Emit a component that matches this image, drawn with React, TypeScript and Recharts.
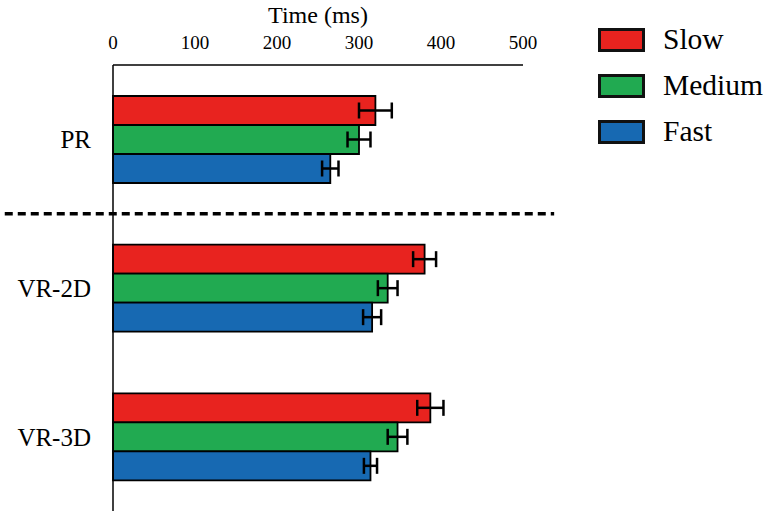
import { Bar, BarChart, ErrorBar, Legend, ReferenceLine, XAxis, YAxis } from "recharts";

const FONT = "'Liberation Serif', 'Times New Roman', serif";

const CATEGORIES = ["PR", "VR-2D", "VR-3D"];
const SLOW = [320, 380, 387];
const SLOW_ERR = [20, 14, 16];
const MEDIUM = [300, 335, 347];
const MEDIUM_ERR = [14, 12, 12];
const FAST = [265, 316, 314];
const FAST_ERR = [10, 11, 8];
const X_TICKS = [0, 100, 200, 300, 400, 500];

const SERIES = [
  { key: "slow", name: "Slow", color: "#E8231F" },
  { key: "medium", name: "Medium", color: "#21AA51" },
  { key: "fast", name: "Fast", color: "#1769B2" },
];

const data = CATEGORIES.map((name, i) => ({
  name,
  slow: SLOW[i],
  slowErr: SLOW_ERR[i],
  medium: MEDIUM[i],
  mediumErr: MEDIUM_ERR[i],
  fast: FAST[i],
  fastErr: FAST_ERR[i],
}));

function LegendBox() {
  return (
    <div style={{ fontFamily: FONT, fontSize: 29.5, color: "#000" }}>
      {SERIES.map((s) => (
        <div key={s.key} style={{ display: "flex", alignItems: "center", height: 46 }}>
          <span
            style={{
              display: "inline-block",
              width: 41,
              height: 18,
              background: s.color,
              border: "3px solid #111",
            }}
          />
          <span style={{ marginLeft: 18, lineHeight: 1 }}>{s.name}</span>
        </div>
      ))}
    </div>
  );
}

export default function App() {
  return (
    <div style={{ position: "absolute", left: 0, top: 0, background: "#fff" }}>
      <BarChart
        width={765}
        height={515}
        data={data}
        layout="vertical"
        barGap={0}
        margin={{ top: 0, right: 242, bottom: 4, left: 0 }}
      >
        <XAxis
          type="number"
          orientation="top"
          domain={[0, 500]}
          ticks={X_TICKS}
          interval={0}
          height={65}
          axisLine={{ stroke: "#000", strokeWidth: 1.5 }}
          tickLine={false}
          tickSize={0}
          tickMargin={16}
          tick={{ fill: "#000", fontSize: 19, fontFamily: FONT }}
          label={{
            value: "Time (ms)",
            position: "insideTop",
            offset: 6,
            fill: "#000",
            fontSize: 24,
            fontFamily: FONT,
          }}
        />
        <YAxis
          type="category"
          dataKey="name"
          width={113}
          axisLine={{ stroke: "#000", strokeWidth: 1.5 }}
          tickLine={false}
          tickSize={0}
          tickMargin={22}
          tick={{ fill: "#000", fontSize: 25, fontFamily: FONT }}
        />
        <Legend
          layout="vertical"
          align="center"
          verticalAlign="middle"
          content={() => <LegendBox />}
          wrapperStyle={{ left: 598, top: 17, width: "auto" }}
        />
        <ReferenceLine
          segment={[
            { x: -132, y: "PR" },
            { x: 538, y: "PR" },
          ]}
          position="end"
          ifOverflow="visible"
          stroke="#000"
          strokeWidth={3.5}
          strokeDasharray="8 5"
        />
        {SERIES.map((s) => (
          <Bar
            key={s.key}
            dataKey={s.key}
            name={s.name}
            fill={s.color}
            stroke="#000"
            strokeWidth={1.8}
            barSize={29}
            isAnimationActive={false}
          >
            <ErrorBar
              dataKey={`${s.key}Err`}
              direction="x"
              width={8}
              stroke="#000"
              strokeWidth={2.5}
            />
          </Bar>
        ))}
      </BarChart>
    </div>
  );
}
